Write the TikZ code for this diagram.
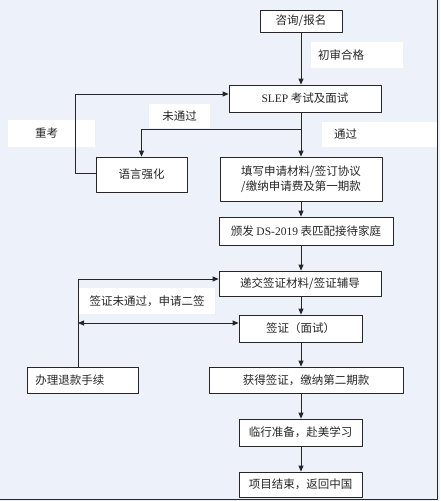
\documentclass[tikz,border=0pt]{standalone}
\usepackage{fontspec}
\setmainfont{Liberation Serif}
\newfontfamily\cjk{Noto Sans CJK SC}
\usepackage{xcolor}
\usetikzlibrary{arrows.meta,calc}

\definecolor{bgblue}{HTML}{ECF1FA}
\definecolor{lineclr}{HTML}{262626}

\begin{document}
\begin{tikzpicture}[x=1pt,y=-1pt,>={Triangle[length=6pt,width=5pt]},line join=round,
  every node/.style={font=\cjk\fontsize{11.5}{15}\selectfont,text=black!85},
  stepbox/.style={draw=lineclr,fill=white,line width=0.8pt,inner sep=0pt,align=center},
  tag/.style={fill=white,inner sep=0pt,minimum height=25pt},
  flow/.style={draw=lineclr,line width=0.8pt}]
  % canvas and frame
  \fill[bgblue] (0,0) rectangle (440,501);
  \useasboundingbox (0,0) rectangle (440,501);
  \draw[lineclr,line width=1pt] (437.5,0) -- (437.5,499.5) -- (0,499.5);
  \coordinate (spine) at (301,0);
  % boxes
  \node[stepbox,minimum width=82pt,minimum height=22pt] (zixun) at (301,21) {咨询/报名};
  \node[stepbox,minimum width=152pt,minimum height=27pt] (slep) at (305,98.5) {{\rmfamily SLEP} 考试及面试};
  \node[stepbox,minimum width=91pt,minimum height=35pt] (yuyan) at (141.5,174.5) {语言强化};
  \node[stepbox,minimum width=162pt,minimum height=44pt] (tianxie) at (301,179) {填写申请材料/签订协议\\/缴纳申请费及第一期款};
  \node[stepbox,minimum width=174pt,minimum height=28pt] (banfa) at (306,231) {颁发 {\rmfamily DS-2019} 表匹配接待家庭};
  \node[stepbox,minimum width=162pt,minimum height=25pt] (dijiao) at (300,283.5) {递交签证材料/签证辅导};
  \node[stepbox,minimum width=123pt,minimum height=27pt] (qianzheng) at (300.5,328.5) {签证（面试）};
  \node[stepbox,anchor=west,text width=95pt,inner xsep=8pt,align=left,minimum height=26pt] (banli) at (27,380) {办理退款手续};
  \node[stepbox,minimum width=194pt,minimum height=26pt] (huode) at (306,380) {获得签证，缴纳第二期款};
  \node[stepbox,minimum width=123pt,minimum height=27pt] (linxing) at (300.5,432.5) {临行准备，赴美学习};
  \node[stepbox,minimum width=123pt,minimum height=25pt] (xiangmu) at (300.5,484.5) {项目结束，返回中国};
  % labels
  \node[tag,anchor=west,text width=78pt,inner xsep=7pt,align=left,minimum height=26pt] (chushen) at (311,55) {初审合格};
  \node[tag,anchor=west,text width=33pt,inner xsep=27pt,align=left,minimum height=27pt] (chongkao) at (8,133.5) {重考};
  \node[tag,minimum width=61pt,minimum height=24pt] (weitongguo) at (179.5,116) {未通过};
  \node[tag,anchor=west,text width=91pt,inner xsep=12pt,align=left] (tongguo) at (322,134.5) {通过};
  \node[tag,minimum width=136pt,minimum height=26pt] (erqian) at (147,301) {签证未通过，申请二签};
  % turning points
  \coordinate (split) at (301,129);
  \coordinate (retryL) at (75,94);
  \coordinate (retryB) at (75,173);
  \coordinate (visaT) at (78,279);
  \coordinate (visaM) at (78,323);
  % main line
  \draw[flow,->] (zixun.south -| spine) -- (slep.north -| spine);
  \draw[flow] (slep.south -| spine) -- (split);
  \draw[flow,->] (split) -- (tianxie.north -| spine);
  \draw[flow,->] (split) -| (yuyan.north);
  \draw[flow,->] (tianxie.south -| spine) -- (banfa.north -| spine);
  \draw[flow,->] (banfa.south -| spine) -- (dijiao.north -| spine);
  \draw[flow,->] (dijiao.south -| spine) -- (qianzheng.north -| spine);
  \draw[flow,->] (qianzheng.south -| spine) -- (huode.north -| spine);
  \draw[flow,->] (huode.south -| spine) -- (linxing.north -| spine);
  \draw[flow,->] (linxing.south -| spine) -- (xiangmu.north -| spine);
  % loops back
  \draw[flow,->] (yuyan.west |- retryB) -- (retryB) -- (retryL) -- (retryL -| slep.west);
  \draw[flow,->] (banli.north -| visaT) -- (visaT) -- (visaT -| dijiao.west);
  \draw[flow,<->] (visaM) -- (visaM -| qianzheng.west);
\end{tikzpicture}
\end{document}
